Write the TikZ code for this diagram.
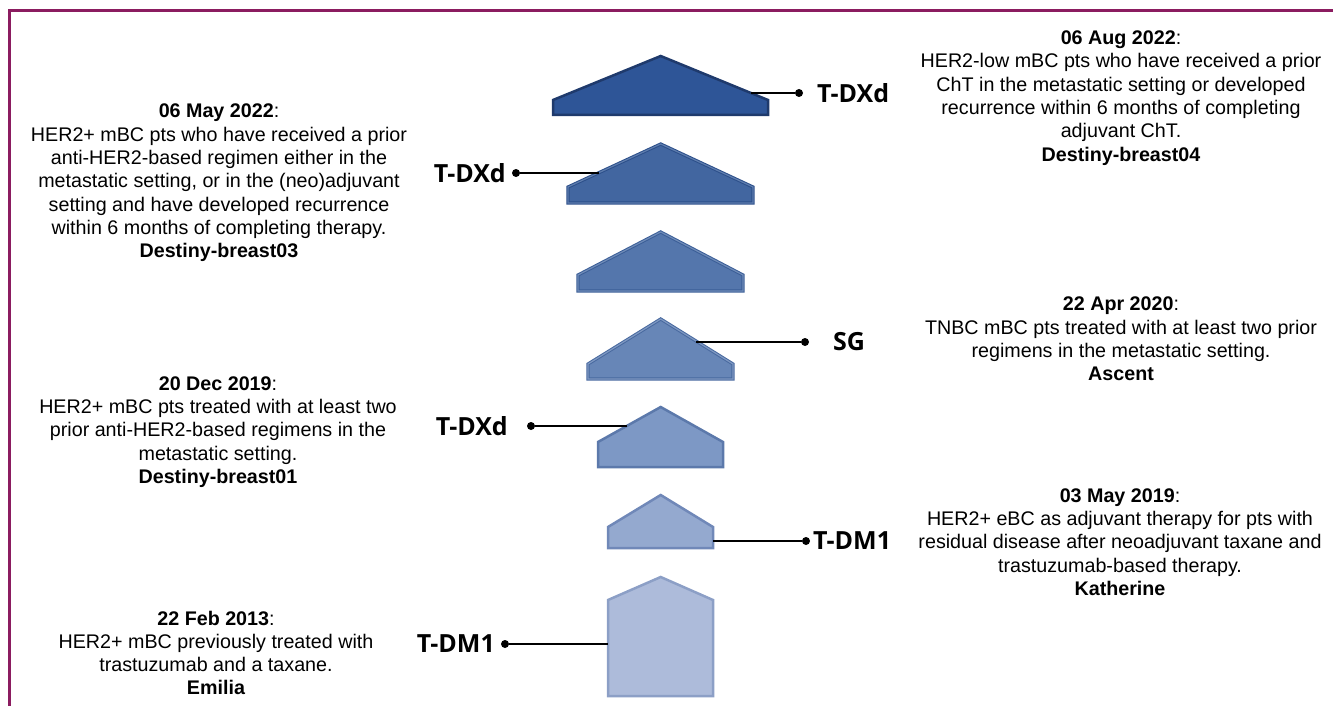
\documentclass[tikz,border=0pt]{standalone}
\usepackage{fontspec}
\setmainfont{Liberation Sans}
\newfontfamily\drugfont{Open Sans}
\usetikzlibrary{positioning}

\definecolor{plum}{RGB}{139,28,96}
\definecolor{bA}{HTML}{2E5597}\definecolor{lA}{HTML}{1F3A6C}
\definecolor{bB}{HTML}{4266A0}\definecolor{lB}{HTML}{2C4F8A}
\definecolor{bC}{HTML}{5476AC}\definecolor{lC}{HTML}{3B5E97}
\definecolor{bD}{HTML}{6786B7}\definecolor{lD}{HTML}{48699F}
\definecolor{bE}{HTML}{7D98C5}\definecolor{lE}{HTML}{5C79AB}
\definecolor{bF}{HTML}{94A9CF}\definecolor{lF}{HTML}{7088B8}
\definecolor{bG}{HTML}{ADBBDA}\definecolor{lG}{HTML}{8C9FC6}

\tikzset{
  framelin/.style={draw=plum,line width=3pt},
  house/.style={line width=2.5pt,line join=miter},
  twin/.style={line width=1pt,double distance=1.2pt,line join=miter},
  info/.style={align=center,inner sep=0pt,font=\fontsize{19.7}{23.3}\selectfont},
  drug/.style={inner sep=0pt,font=\drugfont\bfseries\fontsize{25}{28}\selectfont},
  dot/.style={circle,fill=black,inner sep=0pt,minimum size=8pt},
  link/.style={line width=1.8pt}
}

\begin{document}
\begin{tikzpicture}[x=1pt,y=-1pt]
\useasboundingbox (0,0) rectangle (1333,706);
\draw[framelin] (9,706) -- (9,11) -- (1333,11);

% the seven approvals, newest on top
\draw[house,fill=bA,draw=lA] (553,115) -- (553,100) -- (660.7,56) -- (768,100) -- (768,115) -- cycle;
\draw[twin,fill=bB,draw=lB,double=bB!85!white] (568,203) -- (568,187) -- (660.7,144) -- (753,187) -- (753,203) -- cycle;
\draw[twin,fill=bC,draw=lC,double=bC!85!white] (578,291) -- (578,275) -- (660.7,232) -- (743,275) -- (743,291) -- cycle;
\draw[twin,fill=bD,draw=lD,double=bD!85!white] (588,379) -- (588,364) -- (660.7,319) -- (733,364) -- (733,379) -- cycle;
\draw[house,fill=bE,draw=lE] (598,467) -- (598,442) -- (660.7,407) -- (723,442) -- (723,467) -- cycle;
\draw[house,fill=bF,draw=lF] (608,548) -- (608,527) -- (660.7,495) -- (713,527) -- (713,548) -- cycle;
\draw[house,fill=bG,draw=lG] (608,696) -- (608,600) -- (660.7,577) -- (713,600) -- (713,696) -- cycle;

\coordinate (h1) at (751,93);
\coordinate (h2) at (599,173);
\coordinate (h4) at (696,342);
\coordinate (h5) at (627,426);
\coordinate (h6) at (713,541);
\coordinate (h7) at (608,644);

% drug labels
\node[drug,anchor=west] (dxdA) at (817,93) {T-DXd};
\node[drug,anchor=east] (dxdB) at (506,173) {T-DXd};
\node[drug,anchor=west] (sg) at (833,342) {SG};
\node[drug,anchor=east] (dxdC) at (508,426) {T-DXd};
\node[drug,anchor=west] (dmA) at (813,541) {T-DM1};
\node[drug,anchor=east] (dmB) at (495,644) {T-DM1};

\node[dot] (pA) at (799,93) {};
\node[dot] (pB) at (516,173) {};
\node[dot] (pS) at (805,342) {};
\node[dot] (pC) at (531,426) {};
\node[dot] (pD) at (806,541) {};
\node[dot] (pE) at (505,644) {};

\draw[link] (h1) -- (pA);
\draw[link] (pB) -- (h2);
\draw[link] (h4) -- (pS);
\draw[link] (pC) -- (h5);
\draw[link] (h6) -- (pD);
\draw[link] (pE) -- (h7);

% trial notes
\node[info] (t4) at (1121,98) {\textbf{06 Aug 2022}:\\HER2-low mBC pts who have received a prior\\ChT in the metastatic setting or developed\\recurrence within 6 months of completing\\adjuvant ChT.\\\textbf{Destiny-breast04}};
\node[info] (t3) at (219,183) {\textbf{06 May 2022}:\\HER2+ mBC pts who have received a prior\\anti-HER2-based regimen either in the\\metastatic setting, or in the (neo)adjuvant\\setting and have developed recurrence\\within 6 months of completing therapy.\\\textbf{Destiny-breast03}};
\node[info] (ta) at (1121,339) {\textbf{22 Apr 2020}:\\TNBC mBC pts treated with at least two prior\\regimens in the metastatic setting.\\\textbf{Ascent}};
\node[info] (t1) at (218,432) {\textbf{20 Dec 2019}:\\HER2+ mBC pts treated with at least two\\prior anti-HER2-based regimens in the\\metastatic setting.\\\textbf{Destiny-breast01}};
\node[info] (tk) at (1120,542) {\textbf{03 May 2019}:\\HER2+ eBC as adjuvant therapy for pts with\\residual disease after neoadjuvant taxane and\\trastuzumab-based therapy.\\\textbf{Katherine}};
\node[info] (te) at (216,653) {\textbf{22 Feb 2013}:\\HER2+ mBC previously treated with\\trastuzumab and a taxane.\\\textbf{Emilia}};
\end{tikzpicture}
\end{document}
